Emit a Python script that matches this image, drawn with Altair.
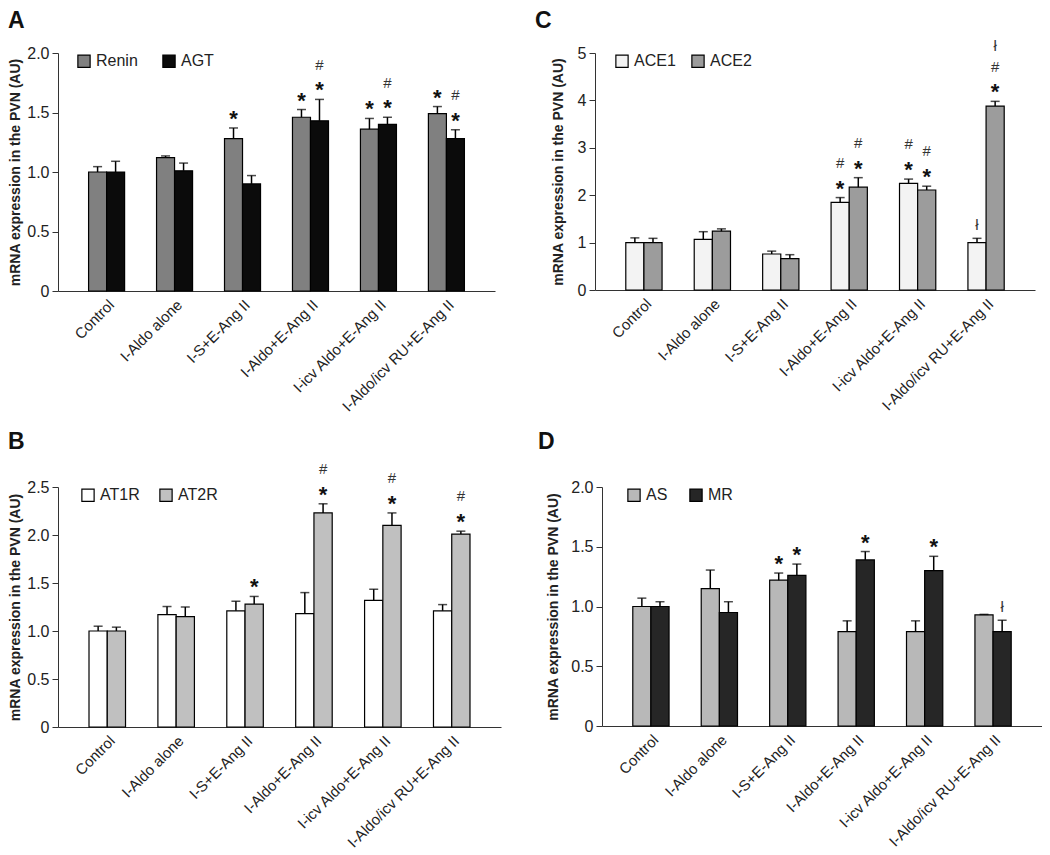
import altair as alt
import pandas as pd

FONT = "Liberation Sans"

groups = ["Control", "I-Aldo alone", "I-S+E-Ang II", "I-Aldo+E-Ang II",
          "I-icv Aldo+E-Ang II", "I-Aldo/icv RU+E-Ang II"]

# Panel A
A_series = ["Renin", "AGT"]
A_renin = [1.00, 1.12, 1.28, 1.46, 1.36, 1.49]
A_renin_sem = [0.045, 0.015, 0.09, 0.065, 0.09, 0.06]
A_agt = [1.00, 1.01, 0.90, 1.43, 1.40, 1.28]
A_agt_sem = [0.09, 0.065, 0.07, 0.18, 0.06, 0.075]
A_renin_sig = ["", "", "*", "*", "*", "*"]
A_agt_sig = ["", "", "", "*#", "*#", "*#"]
A_colors = ["#808080", "#0b0b0b"]

# Panel B
B_series = ["AT1R", "AT2R"]
B_at1r = [1.00, 1.17, 1.21, 1.18, 1.32, 1.21]
B_at1r_sem = [0.05, 0.085, 0.10, 0.22, 0.115, 0.065]
B_at2r = [1.00, 1.15, 1.28, 2.23, 2.10, 2.01]
B_at2r_sem = [0.04, 0.10, 0.08, 0.095, 0.13, 0.03]
B_at1r_sig = ["", "", "", "", "", ""]
B_at2r_sig = ["", "", "*", "*#", "*#", "*#"]
B_colors = ["#ffffff", "#c0c0c0"]

# Panel C
C_series = ["ACE1", "ACE2"]
C_ace1 = [1.00, 1.07, 0.76, 1.85, 2.25, 1.00]
C_ace1_sem = [0.10, 0.16, 0.06, 0.10, 0.09, 0.09]
C_ace2 = [1.00, 1.24, 0.66, 2.17, 2.11, 3.88]
C_ace2_sem = [0.09, 0.05, 0.085, 0.20, 0.08, 0.10]
C_ace1_sig = ["", "", "", "*#", "*#", "ł"]
C_ace2_sig = ["", "", "", "*#", "*#", "*#ł"]
C_colors = ["#f3f3f3", "#9c9c9c"]

# Panel D
D_series = ["AS", "MR"]
D_as = [1.00, 1.15, 1.22, 0.79, 0.79, 0.93]
D_as_sem = [0.07, 0.155, 0.06, 0.09, 0.09, 0.004]
D_mr = [1.00, 0.95, 1.26, 1.39, 1.30, 0.79]
D_mr_sem = [0.04, 0.09, 0.095, 0.07, 0.12, 0.095]
D_as_sig = ["", "", "*", "", "", ""]
D_mr_sig = ["", "", "*", "*", "*", "ł"]
D_colors = ["#b8b8b8", "#262626"]

SYM_STYLE = {
    "*": dict(fontSize=22, fontWeight="bold", center=12.0, color="#111"),
    "#": dict(fontSize=15, fontWeight="normal", center=5.3, color="#333"),
    "ł": dict(fontSize=15, fontWeight="normal", center=5.4, color="#333"),
}


def panel(letter, series, vals, sems, sigs, colors, ymax, ticks, fmt,
          width, height, colpad, legx, tpad, letx, lety):
    rows = []
    marks = []
    for s, v, e, g in zip(series, vals, sems, sigs):
        for i, grp in enumerate(groups):
            rows.append(dict(group=grp, series=s, value=v[i], top=v[i] + e[i]))
            for lvl, ch in enumerate(g[i]):
                marks.append(dict(group=grp, series=s, top=v[i] + e[i],
                                  sym=ch, level=lvl))
    df = pd.DataFrame(rows)
    mf = pd.DataFrame(marks)

    xenc = alt.X("group:N", sort=groups,
                 scale=alt.Scale(paddingInner=0.47, paddingOuter=0.45),
                 axis=alt.Axis(title=None, labelAngle=-45, ticks=False,
                               labelFontSize=15, labelColor="#222",
                               labelPadding=6, domainColor="#333",
                               labelLimit=300))
    xoff = alt.XOffset("series:N", sort=series,
                       scale=alt.Scale(paddingInner=0, paddingOuter=0))
    yscale = alt.Scale(domain=[0, ymax], nice=False)
    yenc = alt.Y("value:Q", scale=yscale,
                 axis=alt.Axis(title="mRNA expression in the PVN (AU)",
                               values=ticks,
                               labelExpr=f"datum.value == 0 ? '0' : format(datum.value, '{fmt}')",
                               grid=False, tickSize=6, labelFontSize=16,
                               labelColor="#222", labelPadding=3,
                               domainColor="#333", tickColor="#333",
                               titleFontSize=14, titleFontWeight="bold",
                               titleColor="#222", titlePadding=tpad))

    base = alt.Chart(df)
    bars = base.mark_bar(stroke="black", strokeWidth=1.2).encode(
        x=xenc, xOffset=xoff, y=yenc,
        fill=alt.Fill("series:N", sort=series,
                      scale=alt.Scale(domain=series, range=colors),
                      legend=alt.Legend(title=None, orient="none",
                                        legendX=legx, legendY=0,
                                        direction="horizontal",
                                        symbolType="square", symbolSize=150,
                                        symbolStrokeColor="black",
                                        symbolStrokeWidth=1.2,
                                        symbolOpacity=1,
                                        labelFontSize=16, labelColor="#222",
                                        labelOffset=4, columnPadding=colpad)),
    )
    err = base.mark_rule(color="black", strokeWidth=1.5).encode(
        x=alt.X("group:N", sort=groups), xOffset=xoff,
        y=alt.Y("value:Q", scale=yscale), y2="top:Q")
    cap = base.mark_tick(color="black", thickness=1.5, size=9).encode(
        x=alt.X("group:N", sort=groups), xOffset=xoff,
        y=alt.Y("top:Q", scale=yscale))

    lab = alt.Chart(pd.DataFrame({"t": [letter]})).mark_text(
        fontSize=23, fontWeight="bold", color="#111", font=FONT,
        align="left", baseline="alphabetic").encode(
        x=alt.value(letx), y=alt.value(lety), text="t:N")

    layers = [bars, err, cap, lab]
    if len(mf):
        combos = sorted(set(zip(mf["sym"], mf["level"])))
        for sym, lvl in combos:
            st = SYM_STYLE[sym]
            dy = -(14 + 21 * lvl) + st["center"]
            t = alt.Chart(mf).transform_filter(
                (alt.datum.sym == sym) & (alt.datum.level == lvl)
            ).mark_text(fontSize=st["fontSize"], fontWeight=st["fontWeight"],
                        color=st["color"], baseline="alphabetic", dy=dy,
                        font=FONT).encode(
                x=alt.X("group:N", sort=groups), xOffset=xoff,
                y=alt.Y("top:Q", scale=yscale), text="sym:N")
            layers.append(t)

    return alt.layer(*layers).properties(width=width, height=height)


pA = panel("A", A_series, [A_renin, A_agt], [A_renin_sem, A_agt_sem],
           [A_renin_sig, A_agt_sig], A_colors, 2.0,
           [0, 0.5, 1.0, 1.5, 2.0], ".1f", 437, 238, 22, 18, 4, -50, -25)
pB = panel("B", B_series, [B_at1r, B_at2r], [B_at1r_sem, B_at2r_sem],
           [B_at1r_sig, B_at2r_sig], B_colors, 2.5,
           [0, 0.5, 1.0, 1.5, 2.0, 2.5], ".1f", 443, 240, 17, 22, 4, -50, -38)
pC = panel("C", C_series, [C_ace1, C_ace2], [C_ace1_sem, C_ace2_sem],
           [C_ace1_sig, C_ace2_sig], C_colors, 5,
           [0, 1, 2, 3, 4, 5], "d", 440, 237, 13, 19, 12, -60, -25)
pD = panel("D", D_series, [D_as, D_mr], [D_as_sem, D_mr_sem],
           [D_as_sig, D_mr_sig], D_colors, 2.0,
           [0, 0.5, 1.0, 1.5, 2.0], ".1f", 440, 239, 19, 24, 10, -64, -38)

top = alt.hconcat(pA, pC, spacing=40).resolve_scale(
    fill="independent", x="independent", y="independent", xOffset="independent")
bottom = alt.hconcat(pB, pD, spacing=37).resolve_scale(
    fill="independent", x="independent", y="independent", xOffset="independent")

chart = alt.vconcat(top, bottom, spacing=16).resolve_scale(
    fill="independent", x="independent", y="independent", xOffset="independent"
).properties(
    padding={"top": 2, "left": 0, "right": 0, "bottom": 0}
).configure(
    font=FONT, background="white"
).configure_view(stroke=None)

chart.save("out.html", embed_options={"renderer": "svg", "actions": False})
